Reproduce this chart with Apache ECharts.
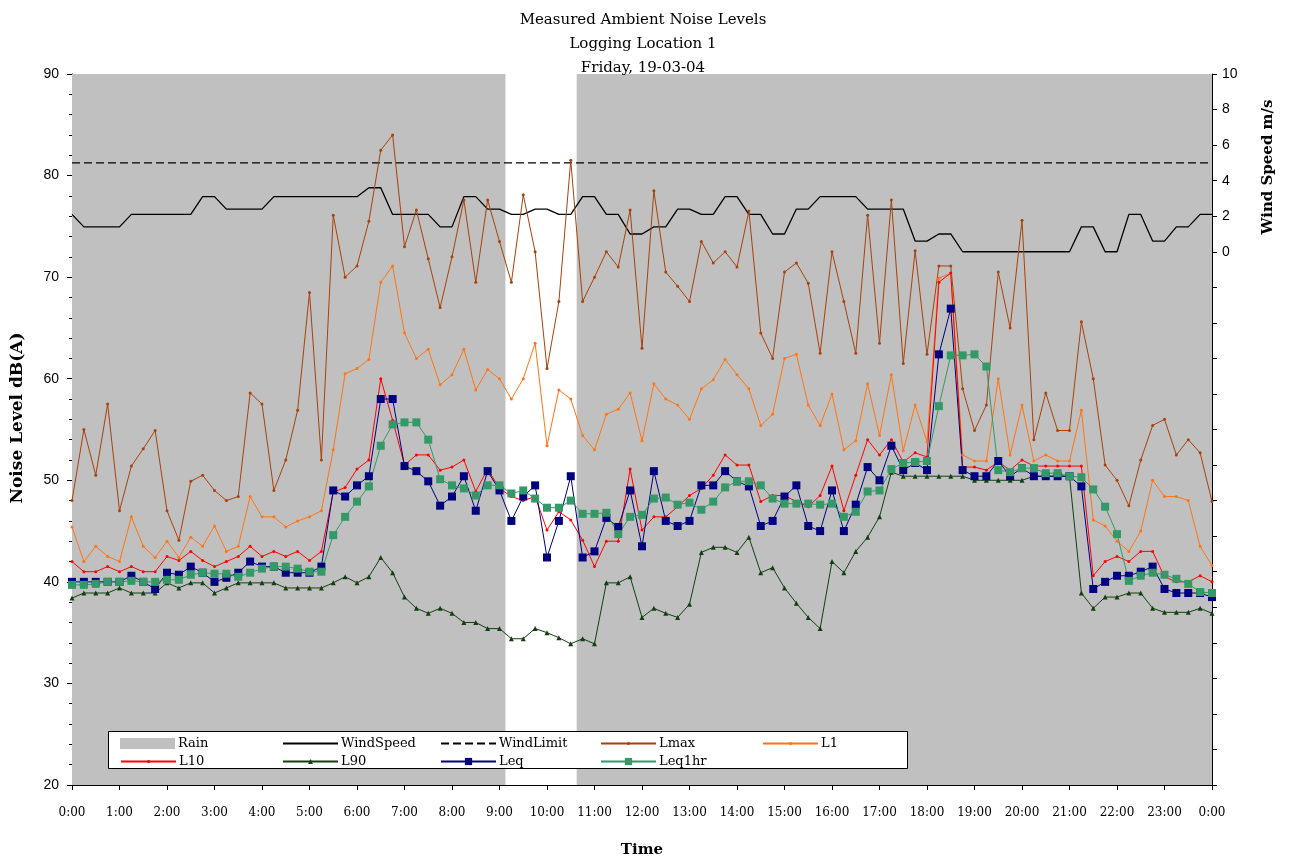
<!DOCTYPE html>
<html>
<head>
<meta charset="utf-8">
<script src="https://cdn.jsdelivr.net/npm/echarts@6/dist/echarts.min.js"></script>
<style>
html, body { margin: 0; padding: 0; background: #fff; }
#main { width: 1291px; height: 861px; }
</style>
</head>
<body>
<div id="main"></div>
<script>
// 15 minute logging intervals, 0:00 .. 24:00
const times = []
for (let h = 0; h <= 24; h++) {
  for (const m of ['00', '15', '30', '45']) {
    times.push(h + ':' + m)
    if (h === 24) break
  }
}

// rain flag per interval (1 = raining)
const rain = [1,1,1,1,1,1,1,1,1,1, 1,1,1,1,1,1,1,1,1,1, 1,1,1,1,1,1,1,1,1,1,
  1,1,1,1,1,1,1,0,0,0, 0,0,0,1,1,1,1,1,1,1,
  1,1,1,1,1,1,1,1,1,1, 1,1,1,1,1,1,1,1,1,1, 1,1,1,1,1,1,1,1,1,1,
  1,1,1,1,1,1,1,1,1,1, 1,1,1,1,1,1,1]

const windSpeed = [2.1,1.4,1.4,1.4,1.4,2.1,2.1,2.1,2.1,2.1, 2.1,3.1,3.1,2.4,2.4,2.4,2.4,3.1,3.1,3.1,
  3.1,3.1,3.1,3.1,3.1,3.6,3.6,2.1,2.1,2.1, 2.1,1.4,1.4,3.1,3.1,2.4,2.4,2.1,2.1,2.4,
  2.4,2.1,2.1,3.1,3.1,2.1,2.1,1.0,1.0,1.4, 1.4,2.4,2.4,2.1,2.1,3.1,3.1,2.1,2.1,1.0,
  1.0,2.4,2.4,3.1,3.1,3.1,3.1,2.4,2.4,2.4, 2.4,0.6,0.6,1.0,1.0,0,0,0,0,0,
  0,0,0,0,0,1.4,1.4,0,0,2.1, 2.1,0.6,0.6,1.4,1.4,2.1,2.1]

const windLimit = 5

const lmax = [48,55,50.5,57.5,47,51.4,53.1,54.9,47,44.1, 49.9,50.5,49,48,48.4,58.6,57.5,49,52,56.9,
  68.5,52,76.1,70,71.1,75.5,82.5,84,73,76.6, 71.8,67,72,77.6,69.5,77.6,73.5,69.5,78.1,72.5,
  61,67.6,81.5,67.6,70,72.5,71,76.6,63,78.5, 70.5,69.1,67.6,73.5,71.4,72.5,71,76.5,64.5,62,
  70.5,71.4,69.4,62.5,72.5,67.6,62.5,76.1,63.5,77.6, 61.5,72.6,62.4,71.1,71.1,59,54.9,57.4,70.5,65,
  75.6,54,58.6,54.9,54.9,65.6,60,51.5,50,47.5, 52,55.4,56,52.5,54,52.7,47.9]

const l1 = [45.4,42,43.5,42.5,42,46.4,43.5,42.4,44,42.4, 44.4,43.5,45.5,43,43.5,48.4,46.4,46.4,45.4,46,
  46.4,47,53,60.5,61,61.9,69.5,71.1,64.5,62, 62.9,59.4,60.4,62.9,58.9,60.9,60,58,60,63.5,
  53.4,58.9,58,54.4,53,56.5,57,58.6,53.9,59.5, 58,57.4,56,59,59.9,61.9,60.4,59,55.4,56.5,
  62,62.4,57.4,55.4,58.5,53,53.9,59.5,54.4,60.4, 52.9,57.4,53.8,69.9,70.4,52.5,51.9,51.9,60,52.5,
  57.4,51.9,52.5,51.9,51.9,56.9,46.1,45.5,44,43, 45,50,48.4,48.4,48,43.5,41.6]

const l10 = [42,41,41,41.5,41,41.5,41,41,42.5,42.1, 43,42.1,41.5,42,42.5,43.5,42.5,43,42.5,43,
  42.1,43,48.8,49.3,51.1,52,60,55.9,51.5,52.5, 52.5,51,51.3,52,48.9,51.1,49.2,48.4,48,48.4,
  45.1,46.9,46.1,44.1,41.5,44,44,51.1,45.1,46.4, 46.4,47.4,48.5,49.2,50.5,52.5,51.5,51.5,47.9,48.5,
  48.5,47.9,47.4,48.5,51.4,47,50.5,54,52.5,54, 51.8,52.7,52.3,69.5,70.4,51.3,51.3,51,51.8,51,
  52,51.4,51.4,51.4,51.4,51.4,40.6,42,42.5,42, 43,43,40.5,40,40,40.6,40]

const l90 = [38.4,38.9,38.9,38.9,39.4,38.9,38.9,38.9,39.9,39.4, 39.9,39.9,38.9,39.4,39.9,39.9,39.9,39.9,39.4,39.4,
  39.4,39.4,39.9,40.5,39.9,40.5,42.4,40.9,38.5,37.4, 36.9,37.4,36.9,36,36,35.4,35.4,34.4,34.4,35.4,
  35,34.5,33.9,34.4,33.9,39.9,39.9,40.5,36.5,37.4, 36.9,36.5,37.8,42.9,43.4,43.4,42.9,44.4,40.9,41.4,
  39.4,37.9,36.5,35.4,42,40.9,43,44.4,46.4,50.8, 50.4,50.4,50.4,50.4,50.4,50.4,50,50,50,50,
  50,50.4,50.4,50.4,50.4,38.9,37.4,38.5,38.5,38.9, 38.9,37.4,37,37,37,37.4,36.9]

const leq = [40,40,40,40,40,40.6,40,39.3,40.9,40.7, 41.5,40.9,40,40.4,40.9,42,41.5,41.5,40.9,40.9,
  40.9,41.5,49,48.4,49.5,50.4,58,58,51.4,50.9, 49.9,47.5,48.4,50.4,47,50.9,49,46,48.4,49.5,
  42.4,46,50.4,42.4,43,46.3,45.4,49,43.5,50.9, 46,45.5,46,49.5,49.5,50.9,49.9,49.4,45.5,46,
  48.4,49.5,45.5,45,49,45,47.6,51.3,50,53.4, 51,51.7,51,62.4,66.9,51,50.4,50.4,51.9,50.4,
  51.2,50.4,50.4,50.4,50.4,49.4,39.3,40,40.6,40.6, 41,41.5,39.3,38.9,38.9,38.9,38.5]

const leq1hr = [39.7,39.7,39.8,40,40,40.1,40,40,40.2,40.2, 40.7,40.9,40.8,40.8,40.5,40.9,41.3,41.5,41.5,41.3,
  41,41,44.6,46.4,47.9,49.4,53.4,55.5,55.7,55.7, 54,50.1,49.5,49.2,48.5,49.5,49.5,48.7,49,48.2,
  47.3,47.3,48,46.7,46.7,46.8,44.7,46.4,46.6,48.2, 48.3,47.6,47.8,47.1,47.9,49.3,49.9,49.9,49.5,48.2,
  47.7,47.7,47.7,47.6,47.7,46.4,46.9,48.9,49,51.1, 51.7,51.8,51.9,57.3,62.3,62.3,62.4,61.2,51,50.8,
  51.2,51.2,50.7,50.7,50.4,50.3,49.1,47.4,44.7,40.1, 40.6,40.9,40.7,40.3,39.8,39,38.9]

const serif = 'DejaVu Serif'
const sans = 'Liberation Sans'

const lineSeries = (name, data, color, symbol, size) => ({
  name: name,
  type: 'line',
  data: data,
  symbol: symbol,
  symbolSize: size,
  showAllSymbol: true,
  lineStyle: {color: color, width: 1},
  itemStyle: {color: color},
  emphasis: {disabled: true},
  z: 3
})

// one legend block per entry so the columns line up like the original box
const legendItem = (name, left, top, h, extra) => ({
  data: [Object.assign({name: name}, extra || {})],
  left: left,
  top: top,
  padding: 0,
  itemWidth: 55,
  itemHeight: h,
  selectedMode: false,
  textStyle: {fontFamily: serif, fontSize: 13, color: '#000', padding: [0, 0, 0, -2]}
})
const row1 = 737
const row2 = 755
const noMarker = {itemStyle: {opacity: 0}}

const myChart = echarts.init(document.getElementById('main'))
const option = {
  animation: false,
  backgroundColor: '#fff',
  title: {
    text: 'Measured Ambient Noise Levels\nLogging Location 1\nFriday, 19-03-04',
    left: 638,
    textAlign: 'center',
    top: 3,
    textStyle: {fontFamily: serif, fontWeight: 'normal', fontSize: 15, lineHeight: 24, color: '#000'}
  },
  grid: {left: 72, right: 79, top: 74, bottom: 76, containLabel: false, outerBoundsMode: 'none'},
  legend: [
    legendItem('Rain', 120, row1, 11, {icon: 'rect'}),
    legendItem('WindSpeed', 282, row1, 10, noMarker),
    legendItem('WindLimit', 440, row1, 10, noMarker),
    legendItem('Lmax', 600, row1, 4),
    legendItem('L1', 762, row1, 4),
    legendItem('L10', 120, row2, 4),
    legendItem('L90', 282, row2, 6),
    legendItem('Leq', 440, row2, 9),
    legendItem('Leq1hr', 600, row2, 9)
  ],
  graphic: [
    {
      type: 'rect',
      shape: {x: 108.5, y: 731.5, width: 799, height: 37},
      style: {fill: '#fff', stroke: '#000', lineWidth: 1},
      z: 3
    },
    {
      type: 'text',
      x: 18,
      y: 418,
      rotation: Math.PI / 2,
      style: {
        text: 'Noise Level dB(A)',
        font: 'bold 17px "DejaVu Serif"',
        fill: '#000',
        align: 'center',
        verticalAlign: 'middle'
      }
    },
    {
      type: 'text',
      x: 1268,
      y: 167,
      rotation: Math.PI / 2,
      style: {
        text: 'Wind Speed m/s',
        font: 'bold 15px "DejaVu Serif"',
        fill: '#000',
        align: 'center',
        verticalAlign: 'middle'
      }
    }
  ],
  xAxis: {
    type: 'category',
    data: times,
    boundaryGap: false,
    name: 'Time',
    nameLocation: 'middle',
    nameGap: 58,
    nameTextStyle: {fontFamily: serif, fontWeight: 'bold', fontSize: 15, color: '#000'},
    axisLine: {onZero: false, lineStyle: {color: '#000', width: 1}},
    axisTick: {interval: 3, length: 5, lineStyle: {color: '#000'}},
    axisLabel: {
      interval: 3,
      margin: 22,
      fontFamily: serif,
      fontSize: 12,
      color: '#000',
      formatter: v => (v === '24:00' ? '0:00' : v)
    },
    splitLine: {show: false}
  },
  yAxis: [
    {
      type: 'value',
      min: 20,
      max: 90,
      interval: 10,
      axisLine: {show: true, lineStyle: {color: '#000'}},
      axisTick: {show: true, length: 5, lineStyle: {color: '#000'}},
      minorTick: {show: true, splitNumber: 5, length: 3, lineStyle: {color: '#000'}},
      axisLabel: {fontFamily: sans, fontSize: 14, color: '#000', margin: 13},
      splitLine: {show: false}
    },
    {
      type: 'value',
      position: 'right',
      min: -30,
      max: 10,
      interval: 2,
      axisLine: {show: true, onZero: false, lineStyle: {color: '#000'}},
      axisTick: {show: true, length: 5, lineStyle: {color: '#000'}},
      axisLabel: {fontFamily: sans, fontSize: 14, color: '#000', margin: 10,
        formatter: v => (v >= 0 ? v : '')},
      splitLine: {show: false}
    },
    {type: 'value', min: 0, max: 1, show: false}
  ],
  series: [
    {
      name: 'Rain',
      type: 'line',
      data: rain,
      yAxisIndex: 2,
      step: 'middle',
      symbol: 'none',
      lineStyle: {width: 0, color: '#c0c0c0'},
      itemStyle: {color: '#c0c0c0'},
      areaStyle: {color: '#c0c0c0', opacity: 1},
      emphasis: {disabled: true},
      z: 1
    },
    {
      name: 'WindSpeed',
      type: 'line',
      data: windSpeed,
      yAxisIndex: 1,
      symbol: 'none',
      lineStyle: {color: '#000', width: 1.3},
      itemStyle: {color: '#000'},
      emphasis: {disabled: true},
      z: 3
    },
    {
      name: 'WindLimit',
      type: 'line',
      data: times.map(() => windLimit),
      yAxisIndex: 1,
      symbol: 'none',
      lineStyle: {color: '#000', width: 1.3, type: [8, 4]},
      itemStyle: {color: '#000'},
      emphasis: {disabled: true},
      z: 3
    },
    lineSeries('Lmax', lmax, '#a8410c', 'circle', 3),
    lineSeries('L1', l1, '#ff7414', 'circle', 3),
    lineSeries('L10', l10, '#ff0000', 'circle', 3),
    lineSeries('L90', l90, '#123f12', 'triangle', 5),
    lineSeries('Leq', leq, '#000080', 'rect', 8),
    lineSeries('Leq1hr', leq1hr, '#339966', 'rect', 8)
  ]
}
option && myChart.setOption(option)
</script>
</body>
</html>
